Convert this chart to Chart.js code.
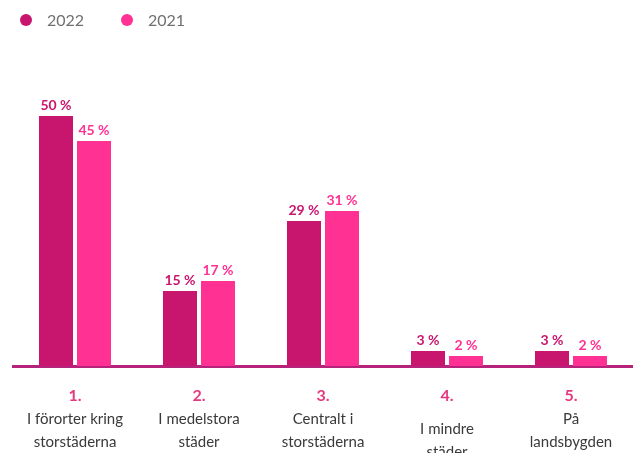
<!DOCTYPE html>
<html>
<head>
<meta charset="utf-8">
<script src="https://cdn.jsdelivr.net/npm/chart.js@4"></script>
<style>
  html, body { margin: 0; padding: 0; background: #fff; }
  #wrap { width: 633px; height: 453px; }
</style>
</head>
<body>
<div id="wrap"><canvas id="chart"></canvas></div>
<script>
// Data
const numbers = ['1.', '2.', '3.', '4.', '5.'];
const categories = [
    ['I förorter kring', 'storstäderna'],
    ['I medelstora', 'städer'],
    ['Centralt i', 'storstäderna'],
    ['I mindre', 'städer'],
    ['På', 'landsbygden']
];
const values2022 = [50, 15, 29, 3, 3];
const values2021 = [45, 17, 31, 2, 2];

const color2022 = '#C8166F';
const color2021 = '#FF3193';
const fontFamily = 'Lato, "Open Sans", sans-serif';

// Enkel legend uppe till vänster (cirkel + årtal)
const topLegend = {
    id: 'topLegend',
    afterDraw(chart) {
        const ctx = chart.ctx;
        ctx.save();
        ctx.font = '16px ' + fontFamily;
        ctx.textBaseline = 'middle';
        chart.data.datasets.forEach((ds, i) => {
            const x = 26 + i * 101;
            ctx.fillStyle = ds.backgroundColor;
            ctx.beginPath();
            ctx.arc(x, 20, 6, 0, Math.PI * 2);
            ctx.fill();
            ctx.fillStyle = '#707070';
            ctx.fillText(ds.label, x + 21, 21);
        });
        ctx.restore();
    }
};

// Procent-etiketter ovanför staplarna
const valueLabels = {
    id: 'valueLabels',
    afterDatasetsDraw(chart) {
        const ctx = chart.ctx;
        ctx.save();
        ctx.font = 'bold 14px ' + fontFamily;
        ctx.textAlign = 'center';
        ctx.textBaseline = 'bottom';
        chart.data.datasets.forEach((ds, i) => {
            const meta = chart.getDatasetMeta(i);
            ctx.fillStyle = ds.backgroundColor;
            meta.data.forEach((bar, j) => {
                ctx.fillText(ds.data[j] + ' %', bar.x, bar.y - 4);
            });
        });
        ctx.restore();
    }
};

// Kategorietiketter under axeln (nummer i rosa + text i grått)
const categoryLabels = {
    id: 'categoryLabels',
    afterDraw(chart) {
        const ctx = chart.ctx;
        const xScale = chart.scales.x;
        const base = chart.chartArea.bottom;
        ctx.save();
        ctx.textAlign = 'center';
        ctx.textBaseline = 'middle';
        categories.forEach((lines, i) => {
            const x = xScale.getPixelForValue(i);
            ctx.font = 'bold 16px ' + fontFamily;
            ctx.fillStyle = '#E5387F';
            ctx.fillText(numbers[i], x, base + 30);
            ctx.font = '15px ' + fontFamily;
            ctx.fillStyle = '#3a3a3a';
            const shift = i === 3 ? 10 : 0;
            lines.forEach((line, k) => {
                ctx.fillText(line, x, base + 53 + shift + k * 23);
            });
        });
        ctx.restore();
    }
};

const ctx = document.getElementById('chart').getContext('2d');
new Chart(ctx, {
    type: 'bar',
    data: {
        labels: categories,
        datasets: [
            { label: '2022', data: values2022, backgroundColor: color2022,
              barPercentage: 0.895, categoryPercentage: 0.613 },
            { label: '2021', data: values2021, backgroundColor: color2021,
              barPercentage: 0.895, categoryPercentage: 0.613 }
        ]
    },
    options: {
        responsive: true,
        maintainAspectRatio: false,
        animation: false,
        layout: { padding: { left: 13, right: 0, top: 66, bottom: 79 } },
        scales: {
            x: {
                grid: { display: false },
                border: { display: true, color: '#B5237A', width: 3 },
                ticks: { display: false }
            },
            y: {
                min: 0,
                max: 60,
                display: false
            }
        },
        plugins: {
            legend: { display: false },
            tooltip: { enabled: false }
        }
    },
    plugins: [valueLabels, categoryLabels, topLegend]
});
</script>
</body>
</html>
